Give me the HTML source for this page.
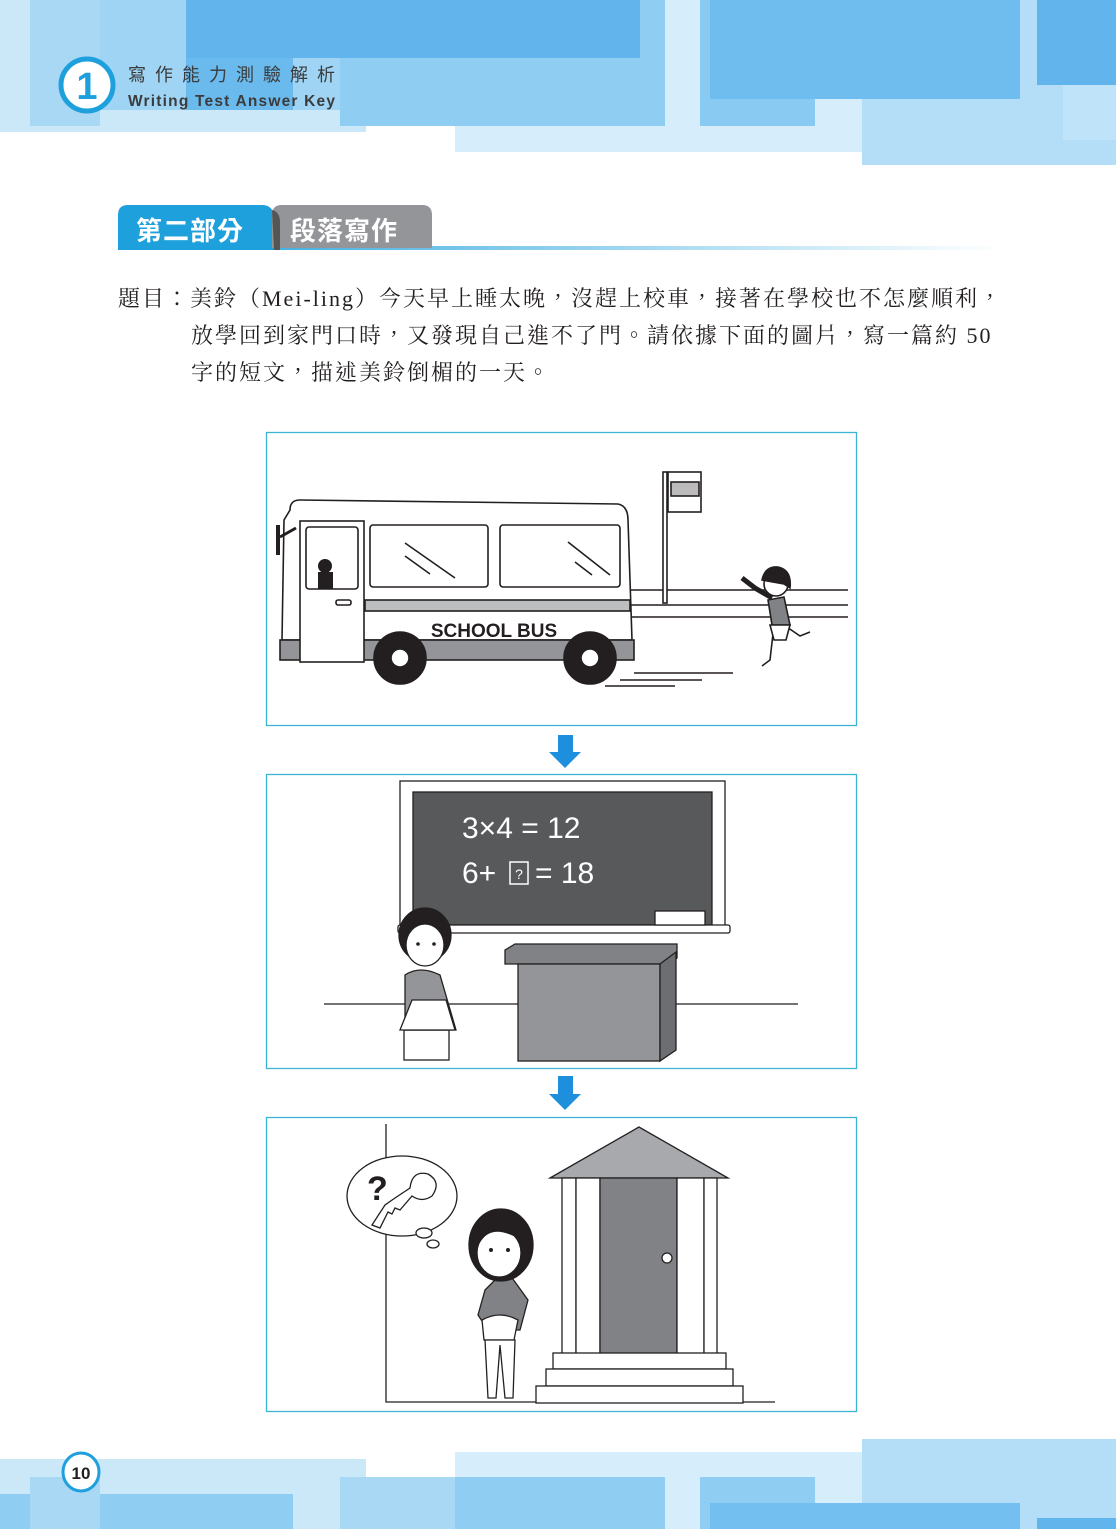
<!DOCTYPE html>
<html><head><meta charset="utf-8"><style>
*{margin:0;padding:0}
body{width:1116px;height:1529px;position:relative;background:#fff;overflow:hidden;font-family:"Liberation Serif","Noto Serif CJK TC","Noto Serif CJK SC",serif}
.r{position:absolute}
.q{position:absolute;font-size:22px;color:#231f20;white-space:nowrap;letter-spacing:2px}
</style></head><body>
<svg class="r" style="left:0;top:0" width="1116" height="1529" viewBox="0 0 1116 1529">
<rect x="0" y="0" width="366" height="132" fill="#cbe8f9"/>
<rect x="455" y="0" width="565" height="152" fill="#d6eefb"/>
<rect x="862" y="0" width="254" height="165" fill="#b4def7"/>
<rect x="30" y="0" width="70" height="126" fill="#a9d8f5"/>
<rect x="100" y="0" width="240" height="110" fill="#9fd4f5"/>
<rect x="340" y="0" width="325" height="126" fill="#8fcdf3"/>
<rect x="186" y="0" width="107" height="110" fill="#6bbaee"/>
<rect x="186" y="0" width="454" height="58" fill="#62b5ec"/>
<rect x="700" y="0" width="115" height="126" fill="#88caf2"/>
<rect x="710" y="0" width="310" height="99" fill="#6fbdef"/>
<rect x="1037" y="0" width="79" height="85" fill="#62b5ec"/>
<rect x="1063" y="85" width="53" height="55" fill="#bfe3f8"/>
<circle cx="87" cy="85" r="26" fill="#fff" stroke="#1ea0dc" stroke-width="5"/>
<text x="87" y="99" text-anchor="middle" font-family="Liberation Sans" font-weight="bold" font-size="38" fill="#1ea0dc">1</text>
<text x="128" y="81" font-family="Liberation Sans,Noto Sans CJK TC,sans-serif" font-size="18" fill="#3b3b3b" letter-spacing="9">寫作能力測驗解析</text>
<text x="128" y="106" font-family="Liberation Sans" font-weight="bold" font-size="15.5" fill="#3b3b3b" letter-spacing="1.2">Writing Test Answer Key</text>
<rect x="0" y="1459" width="366" height="70" fill="#cbe8f9"/>
<rect x="455" y="1452" width="565" height="77" fill="#d6eefb"/>
<rect x="862" y="1439" width="254" height="90" fill="#b4def7"/>
<rect x="340" y="1477" width="325" height="52" fill="#a9d8f5"/>
<rect x="0" y="1494" width="293" height="35" fill="#8fcdf3"/>
<rect x="30" y="1477" width="70" height="52" fill="#a9d8f5"/>
<rect x="455" y="1477" width="210" height="52" fill="#8fcdf3"/>
<rect x="700" y="1477" width="115" height="52" fill="#8fcdf3"/>
<rect x="710" y="1503" width="310" height="26" fill="#72bff0"/>
<rect x="1063" y="1463" width="53" height="66" fill="#b4def7"/>
<rect x="1037" y="1518" width="79" height="11" fill="#62b5ec"/>
<ellipse cx="81" cy="1472" rx="18" ry="19" fill="#fff" stroke="#1ea0dc" stroke-width="3"/>
<text x="81" y="1479" text-anchor="middle" font-family="Liberation Sans" font-weight="bold" font-size="17" fill="#231f20">10</text>
<defs><linearGradient id="g" x1="0" x2="1"><stop offset="0" stop-color="#1ea0dc"/><stop offset="1" stop-color="#1ea0dc" stop-opacity="0"/></linearGradient></defs>
<rect x="118" y="246" width="885" height="4" fill="url(#g)"/>
<path d="M118 250 V215 Q118 205 128 205 H262 Q272 205 274 215 V250 Z" fill="#1ea0dc"/>
<path d="M272 250 V215 Q272 205 282 205 H422 Q432 205 432 215 V248 H272 Z" fill="#939598"/>
<path d="M272 210 Q280 212 280 222 V250 H274 Z" fill="#555"/>
<text x="136" y="240" font-family="Noto Sans CJK TC,sans-serif" font-weight="bold" font-size="26" fill="#fff" letter-spacing="1">第二部分</text>
<text x="290" y="240" font-family="Noto Sans CJK TC,sans-serif" font-weight="bold" font-size="26" fill="#fff" letter-spacing="1">段落寫作</text>
<g fill="none" stroke="#3cb4d6" stroke-width="1.3">
<rect x="266.5" y="432.5" width="590" height="293"/>
<rect x="266.5" y="774.5" width="590" height="294"/>
<rect x="266.5" y="1117.5" width="590" height="294"/>
</g>
<path d="M558 735 H573 V752 H581 L565 768 L549 752 H558 Z" fill="#1e8fdc"/>
<path d="M558 1076 H573 V1094 H581 L565 1110 L549 1094 H558 Z" fill="#1e8fdc"/>
<g stroke="#231f20" stroke-width="1.6">
<line x1="630" y1="590" x2="848" y2="590"/><line x1="630" y1="605" x2="848" y2="605"/><line x1="630" y1="617" x2="848" y2="617"/>
<rect x="663" y="472" width="4" height="131" fill="#fff"/>
<rect x="668" y="472" width="33" height="40" fill="#fff"/>
<rect x="671" y="482" width="28" height="14" fill="#bbb"/>
<path d="M290 510 Q290 500 300 500 L618 504 Q628 506 628 520 L632 640 H282 L284 520 Z" fill="#fff"/>
<rect x="280" y="640" width="354" height="20" fill="#939598"/>
<rect x="300" y="521" width="64" height="141" fill="#fff"/>
<rect x="306" y="527" width="52" height="62" rx="3" fill="#fff"/>
<rect x="370" y="525" width="118" height="62" rx="3" fill="#fff"/>
<rect x="500" y="525" width="120" height="62" rx="3" fill="#fff"/>
<rect x="365" y="600" width="265" height="11" fill="#bcbec0"/>
<rect x="336" y="600" width="15" height="5" rx="2" fill="#fff"/>
<line x1="278" y1="525" x2="278" y2="555" stroke-width="4"/><line x1="280" y1="537" x2="296" y2="528" stroke-width="3"/>
<line x1="405" y1="543" x2="455" y2="578"/><line x1="405" y1="556" x2="430" y2="574"/>
<line x1="568" y1="542" x2="610" y2="575"/><line x1="575" y1="562" x2="592" y2="575"/>
<circle cx="400" cy="658" r="26" fill="#231f20"/><circle cx="400" cy="658" r="9" fill="#fff"/>
<circle cx="590" cy="658" r="26" fill="#231f20"/><circle cx="590" cy="658" r="9" fill="#fff"/>
<line x1="634" y1="673" x2="733" y2="673"/><line x1="620" y1="680" x2="702" y2="680"/><line x1="605" y1="686" x2="675" y2="686"/>
<path d="M772 598 L755 588 L742 578" stroke-width="5" fill="none"/>
<path d="M768 600 L784 597 L790 625 L772 625 Z" fill="#808285"/>
<path d="M774 625 L770 660 L762 666 M784 625 L800 636 L810 632" fill="none" stroke-width="1.6"/>
<path d="M770 625 H790 L786 640 H774 Z" fill="#fff"/>
<circle cx="776" cy="584" r="12" fill="#fff"/>
<path d="M762 580 Q765 566 778 567 Q792 570 790 588 L784 584 Z" fill="#231f20"/>
</g>
<circle cx="325" cy="566" r="7" fill="#231f20"/><rect x="318" y="572" width="15" height="17" fill="#231f20"/>
<text x="494" y="637" text-anchor="middle" font-family="Liberation Sans" font-weight="bold" font-size="19" fill="#231f20">SCHOOL BUS</text>
<g stroke="#231f20" stroke-width="1.3">
<line x1="324" y1="1004" x2="798" y2="1004"/>
<rect x="400" y="781" width="325" height="147" fill="#fff"/>
<rect x="413" y="792" width="299" height="133" fill="#58595b"/>
<rect x="398" y="925" width="332" height="8" rx="2" fill="#fff"/>
<rect x="655" y="911" width="50" height="14" fill="#fff"/>
<path d="M505 950 L515 944 H677 V958 L670 964 H505 Z" fill="#808285"/>
<rect x="518" y="964" width="142" height="97" fill="#939598"/>
<path d="M660 964 L676 952 V1050 L660 1061 Z" fill="#6d6e71"/>
<rect x="404" y="1030" width="45" height="30" fill="#fff"/>
<path d="M405 975 Q420 965 440 975 L456 1030 H405 Z" fill="#939598"/>
<path d="M412 1000 H446 L455 1030 H400 Z" fill="#fff"/>
<ellipse cx="425" cy="935" rx="26" ry="27" fill="#231f20"/>
<ellipse cx="425" cy="945" rx="19" ry="21" fill="#fff"/>
</g>
<text x="462" y="838" font-family="Liberation Sans" font-size="30" fill="#fff">3×4 = 12</text>
<text x="462" y="883" font-family="Liberation Sans" font-size="30" fill="#fff">6+</text>
<rect x="510" y="862" width="18" height="22" fill="none" stroke="#fff" stroke-width="1.5"/>
<text x="519" y="879" text-anchor="middle" font-family="Liberation Sans" font-size="14" fill="#fff">?</text>
<text x="535" y="883" font-family="Liberation Sans" font-size="30" fill="#fff">= 18</text>
<g stroke="#231f20" stroke-width="1.3">
<polyline points="386,1124 386,1402 775,1402" fill="none"/>
<polygon points="639,1127 550,1178 728,1178" fill="#a7a9ac"/>
<rect x="562" y="1178" width="14" height="176" fill="#fff"/>
<rect x="576" y="1178" width="24" height="176" fill="#fff"/>
<rect x="600" y="1178" width="77" height="176" fill="#808285"/>
<rect x="677" y="1178" width="27" height="176" fill="#fff"/>
<rect x="704" y="1178" width="13" height="176" fill="#fff"/>
<circle cx="667" cy="1258" r="5" fill="#fff"/>
<rect x="553" y="1353" width="173" height="16" fill="#fff"/>
<rect x="546" y="1369" width="187" height="17" fill="#fff"/>
<rect x="536" y="1386" width="207" height="17" fill="#fff"/>
<ellipse cx="402" cy="1196" rx="55" ry="40" fill="#fff"/>
<ellipse cx="424" cy="1233" rx="8" ry="5" fill="#fff"/><ellipse cx="433" cy="1244" rx="6" ry="4" fill="#fff"/>
<path d="M372 1225 L385 1205 L395 1198 L410 1188 Q412 1170 428 1174 Q442 1182 432 1196 Q422 1203 412 1196 L400 1210 L395 1208 L392 1214 L388 1212 L380 1228 Z" fill="#fff"/>
<path d="M485 1290 L478 1315 L488 1330 H520 L528 1300 L510 1275 H500 Z" fill="#808285"/>
<path d="M482 1320 Q500 1310 518 1320 L514 1340 H484 Z" fill="#fff"/>
<path d="M485 1340 L488 1398 H496 L500 1345 L505 1398 H513 L515 1340 Z" fill="#fff"/>
<ellipse cx="501" cy="1245" rx="32" ry="36" fill="#231f20"/>
<ellipse cx="499" cy="1253" rx="22" ry="24" fill="#fff"/>
<path d="M478 1245 Q490 1220 522 1240 L522 1228 Q500 1215 478 1232 Z" fill="#231f20"/>
</g>
<text x="367" y="1200" font-family="Liberation Sans" font-weight="bold" font-size="34" fill="#231f20">?</text>
<circle cx="418" cy="944" r="1.8" fill="#231f20"/><circle cx="434" cy="944" r="1.8" fill="#231f20"/>
<circle cx="491" cy="1250" r="2" fill="#231f20"/><circle cx="508" cy="1250" r="2" fill="#231f20"/>
</svg>
<div class="q" style="left:118px;top:282px">題目：美鈴（Mei-ling）今天早上睡太晚，沒趕上校車，接著在學校也不怎麼順利，</div>
<div class="q" style="left:191px;top:319px">放學回到家門口時，又發現自己進不了門。請依據下面的圖片，寫一篇約 50</div>
<div class="q" style="left:191px;top:356px">字的短文，描述美鈴倒楣的一天。</div>
</body></html>
